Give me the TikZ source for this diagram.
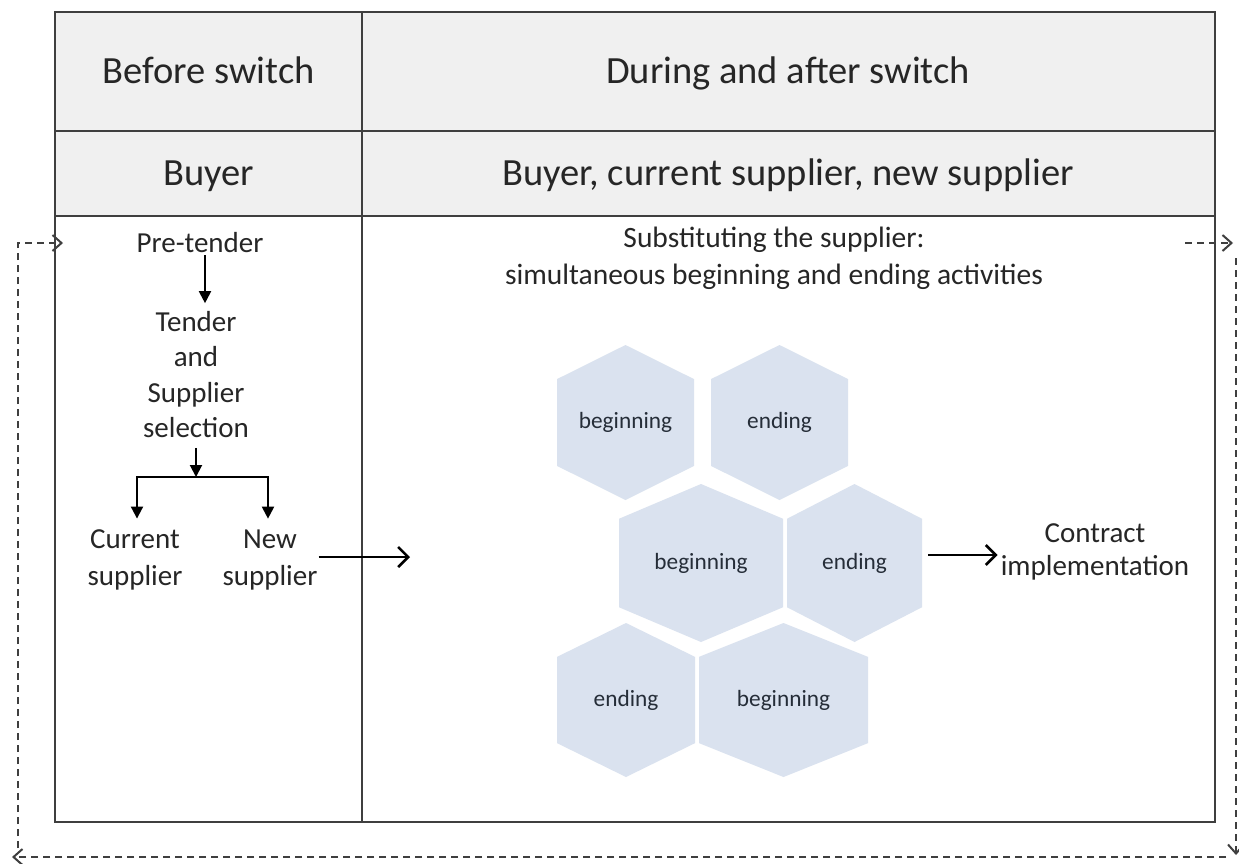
\documentclass[tikz,border=0pt]{standalone}
\usepackage{fontspec}
\setmainfont{Carlito}
\usetikzlibrary{arrows.meta,calc}

\definecolor{gridline}{HTML}{3F3F3F}
\definecolor{headfill}{HTML}{F0F0F0}
\definecolor{hexfill}{HTML}{DAE2EF}
\definecolor{hextext}{HTML}{252D38}
\definecolor{ink}{HTML}{262626}

\tikzset{
  tblline/.style={draw=gridline, line width=2.2pt},
  headtxt/.style={font=\fontsize{38.5}{46}\selectfont, text=ink, anchor=base, inner sep=0pt},
  flowtxt/.style={font=\fontsize{29}{35.3}\selectfont, text=ink, align=center, inner sep=0pt},
  pairtxt/.style={font=\fontsize{29}{37}\selectfont, text=ink, align=center, inner sep=0pt},
  subtxt/.style={font=\fontsize{29.5}{37}\selectfont, text=ink, align=center, inner sep=0pt},
  hexlbl/.style={font=\fontsize{23.3}{28}\selectfont, text=hextext, inner sep=0pt},
  flowarrow/.style={draw=black, line width=2pt, -{Triangle[length=12pt,width=12pt]}},
  openarrow/.style={draw=black, line width=2.6pt, -{Straight Barb[length=10pt,width=20pt,line width=2.6pt]}},
  looparrow/.style={draw=gridline, line width=2pt, dash pattern=on 7pt off 5pt,
    -{Straight Barb[length=9pt,width=16pt,line width=2pt]}},
}

% pointy-top hexagon cell: centre x, centre y, width, height, label, name
\newcommand\hexcell[6]{%
  \fill[hexfill] (#1,#2-#4/2) -- (#1+#3/2,#2-#4/2+0.22*#4) -- (#1+#3/2,#2+#4/2-0.22*#4)
    -- (#1,#2+#4/2) -- (#1-#3/2,#2+#4/2-0.22*#4) -- (#1-#3/2,#2-#4/2+0.22*#4) -- cycle;
  \coordinate (#6-e) at (#1+#3/2,#2);
  \node[hexlbl] (#6) at (#1,#2) {#5};%
}

\begin{document}
\begin{tikzpicture}[x=1pt,y=-1pt]
\useasboundingbox (0,0) rectangle (1239,863);
\fill[white] (0,0) rectangle (1239,863);

% table
\fill[headfill] (55,12) rectangle (1215,216);
\draw[tblline] (55,12) rectangle (1215,822);
\draw[tblline] (55,131) -- (1215,131);
\draw[tblline] (55,216) -- (1215,216);
\draw[tblline] (362,12) -- (362,822);

\node[headtxt] (h1) at (208.5,83) {Before switch};
\node[headtxt] (h2) at (788,83) {During and after switch};
\node[headtxt] (h3) at (208.5,185) {Buyer};
\node[headtxt] (h4) at (788,185) {Buyer, current supplier, new supplier};

% left column flow
\node[flowtxt, anchor=base] (pre) at (200,252) {Pre-tender};
\node[flowtxt] (tender) at (196,374.5) {Tender\\and\\Supplier\\selection};
\node[pairtxt] (cur) at (135,560) {Current\\supplier};
\node[pairtxt] (new) at (270,560) {New\\supplier};
\coordinate (fork) at (196,477);

\draw[flowarrow] ([xshift=5pt,yshift=-3pt]pre.south) -- ([xshift=9pt,yshift=8pt]tender.north);
\draw[flowarrow] ([yshift=-10pt]tender.south) -- (fork);
\draw[flowarrow] (fork) -| ([xshift=2pt,yshift=11pt]cur.north);
\draw[flowarrow] (fork) -| ([xshift=-2pt,yshift=11pt]new.north);

\coordinate (entry) at (410,557);
\draw[openarrow] ([xshift=1pt,yshift=3pt]new.east) -- (entry);

% right column
\node[subtxt] (subst) at (774,258.7) {Substituting the supplier:\\simultaneous beginning and ending activities};

\hexcell{625.5}{422.5}{137}{155}{beginning}{hA}
\hexcell{779.5}{422.5}{137}{155}{ending}{hB}
\hexcell{701}{563}{164}{158}{beginning}{hC}
\hexcell{854.5}{563}{135}{158}{ending}{hD}
\hexcell{626}{700}{138}{154}{ending}{hE}
\hexcell{783.5}{700}{169}{154}{beginning}{hF}

\node[font=\fontsize{29}{33}\selectfont, text=ink, align=center, inner sep=0pt] (contract) at (1095,552) {Contract\\implementation};
\draw[openarrow] ($(hD-e |- contract.west)+(6,3)$) -- ($(contract.west)+(-3,3)$);

% feedback loop round the table
\coordinate (lp1) at (1185,243);
\coordinate (lp2) at (1233,243);
\coordinate (lp3) at (1236,258);
\coordinate (lp4) at (1236,855);
\coordinate (lp5) at (1226,857);
\coordinate (lp6) at (12,857);
\coordinate (lp7) at (18,848);
\coordinate (lp8) at (18,243);
\coordinate (lp9) at (63,243);
\draw[looparrow] (lp1) -- (lp2);
\draw[looparrow] (lp3) -- (lp4);
\draw[looparrow] (lp5) -- (lp6);
\draw[looparrow] (lp7) -- (lp8) -- (lp9);
\end{tikzpicture}
\end{document}
